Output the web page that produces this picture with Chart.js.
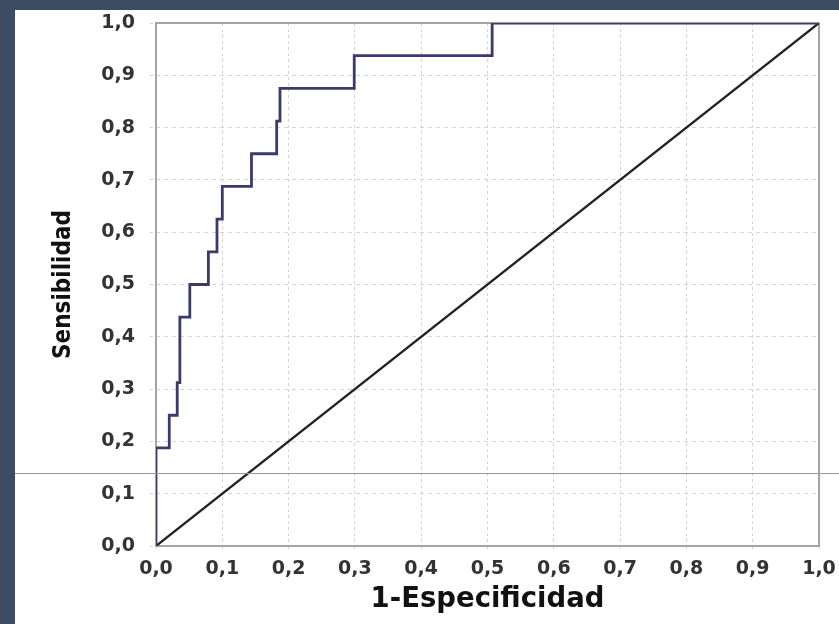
<!DOCTYPE html>
<html>
<head>
<meta charset="utf-8">
<script src="https://cdn.jsdelivr.net/npm/chart.js@4/dist/chart.umd.min.js"></script>
<style>
  html, body { margin: 0; padding: 0; width: 839px; height: 624px; background: #3e4c63; overflow: hidden; }
  #panel { position: absolute; left: 15px; top: 10px; width: 824px; height: 614px; background: #ffffff; }
  canvas { display: block; }
</style>
</head>
<body>
<div id="panel"><canvas id="roc"></canvas></div>
<script>
// ROC curve operating points (1 - specificity, sensitivity)
const fpr = [0, 0, 0.020, 0.032, 0.036, 0.051, 0.079, 0.092, 0.100, 0.144, 0.182, 0.187, 0.299, 0.507, 1.0];
const tpr = [0, 0.1875, 0.25, 0.3125, 0.4375, 0.5, 0.5625, 0.625, 0.6875, 0.75, 0.8125, 0.875, 0.9375, 1.0, 1.0];

// chance line
const refX = [0, 1];
const refY = [0, 1];

// axis tick labels (decimal comma)
const tickLabels = ['0,0', '0,1', '0,2', '0,3', '0,4', '0,5', '0,6', '0,7', '0,8', '0,9', '1,0'];

// level of the thin rule crossing the panel
const ruleLevel = [0.14];

const toPoints = (xs, ys) => xs.map((x, i) => ({ x: x, y: ys[i] }));

// box around the plotting area
const frame = {
  id: 'frame',
  beforeDatasetsDraw(chart) {
    const a = chart.chartArea, ctx = chart.ctx;
    ctx.save();
    ctx.strokeStyle = '#a4a4a4';
    ctx.lineWidth = 2;
    ctx.strokeRect(a.left, a.top, a.right - a.left, a.bottom - a.top);
    ctx.restore();
  }
};

// thin horizontal rule spanning the whole panel
const rule = {
  id: 'rule',
  afterDraw(chart) {
    const ctx = chart.ctx;
    const y = Math.round(chart.scales.y.getPixelForValue(ruleLevel[0])) + 0.5;
    ctx.save();
    ctx.strokeStyle = '#9298ae';
    ctx.lineWidth = 1;
    ctx.beginPath();
    ctx.moveTo(0, y);
    ctx.lineTo(chart.width, y);
    ctx.stroke();
    ctx.restore();
  }
};

// fixed axis sizes, no extra room reserved for edge labels
const fixSize = (w, h) => (scale) => {
  if (w !== null) scale.width = w;
  if (h !== null) scale.height = h;
  scale.paddingTop = 0;
  scale.paddingBottom = 0;
  scale.paddingLeft = 0;
  scale.paddingRight = 0;
};

const tickFont = { family: "'DejaVu Sans', Verdana, sans-serif", size: 19, weight: 'bold' };
const gridOpts = {
  color: '#d4d4d4',
  lineWidth: 1,
  tickLength: 6,
  tickColor: '#d4d4d4',
  tickBorderDash: [3, 3]
};

new Chart(document.getElementById('roc'), {
  type: 'scatter',
  data: {
    datasets: [
      {
        label: 'Curva ROC',
        data: toPoints(fpr, tpr),
        showLine: true,
        stepped: 'before',
        borderColor: '#3b3a6c',
        borderWidth: 2.8,
        pointRadius: 0,
        fill: false
      },
      {
        label: 'Referencia',
        data: toPoints(refX, refY),
        showLine: true,
        borderColor: '#222222',
        borderWidth: 2.3,
        pointRadius: 0,
        fill: false
      }
    ]
  },
  plugins: [frame, rule],
  options: {
    responsive: true,
    maintainAspectRatio: false,
    animation: false,
    layout: { padding: { left: 0, top: 13, right: 20, bottom: 0 } },
    plugins: {
      legend: { display: false },
      tooltip: { enabled: false }
    },
    scales: {
      x: {
        type: 'linear',
        min: 0,
        max: 1,
        afterFit: fixSize(null, 78),
        border: { display: false, dash: [3, 3] },
        grid: gridOpts,
        ticks: {
          stepSize: 0.1,
          padding: 6,
          color: '#333333',
          font: tickFont,
          maxRotation: 0,
          autoSkip: false,
          callback: (v, i) => tickLabels[i]
        },
        title: {
          display: true,
          text: '1-Especificidad',
          color: '#111111',
          font: { family: "'DejaVu Sans', sans-serif", size: 27.5, weight: 'bold' },
          padding: { top: 0, bottom: 8 }
        }
      },
      y: {
        type: 'linear',
        min: 0,
        max: 1,
        afterFit: fixSize(141, null),
        border: { display: false, dash: [4, 4] },
        grid: gridOpts,
        ticks: {
          stepSize: 0.1,
          padding: 15,
          color: '#333333',
          font: tickFont,
          autoSkip: false,
          callback: (v, i) => tickLabels[i]
        },
        title: {
          display: true,
          text: 'Sensibilidad',
          color: '#111111',
          font: { family: "'DejaVu Sans Condensed', 'DejaVu Sans', sans-serif", size: 24, weight: 'bold' },
          padding: { top: 34, bottom: 0 }
        }
      }
    }
  }
});
</script>
</body>
</html>
